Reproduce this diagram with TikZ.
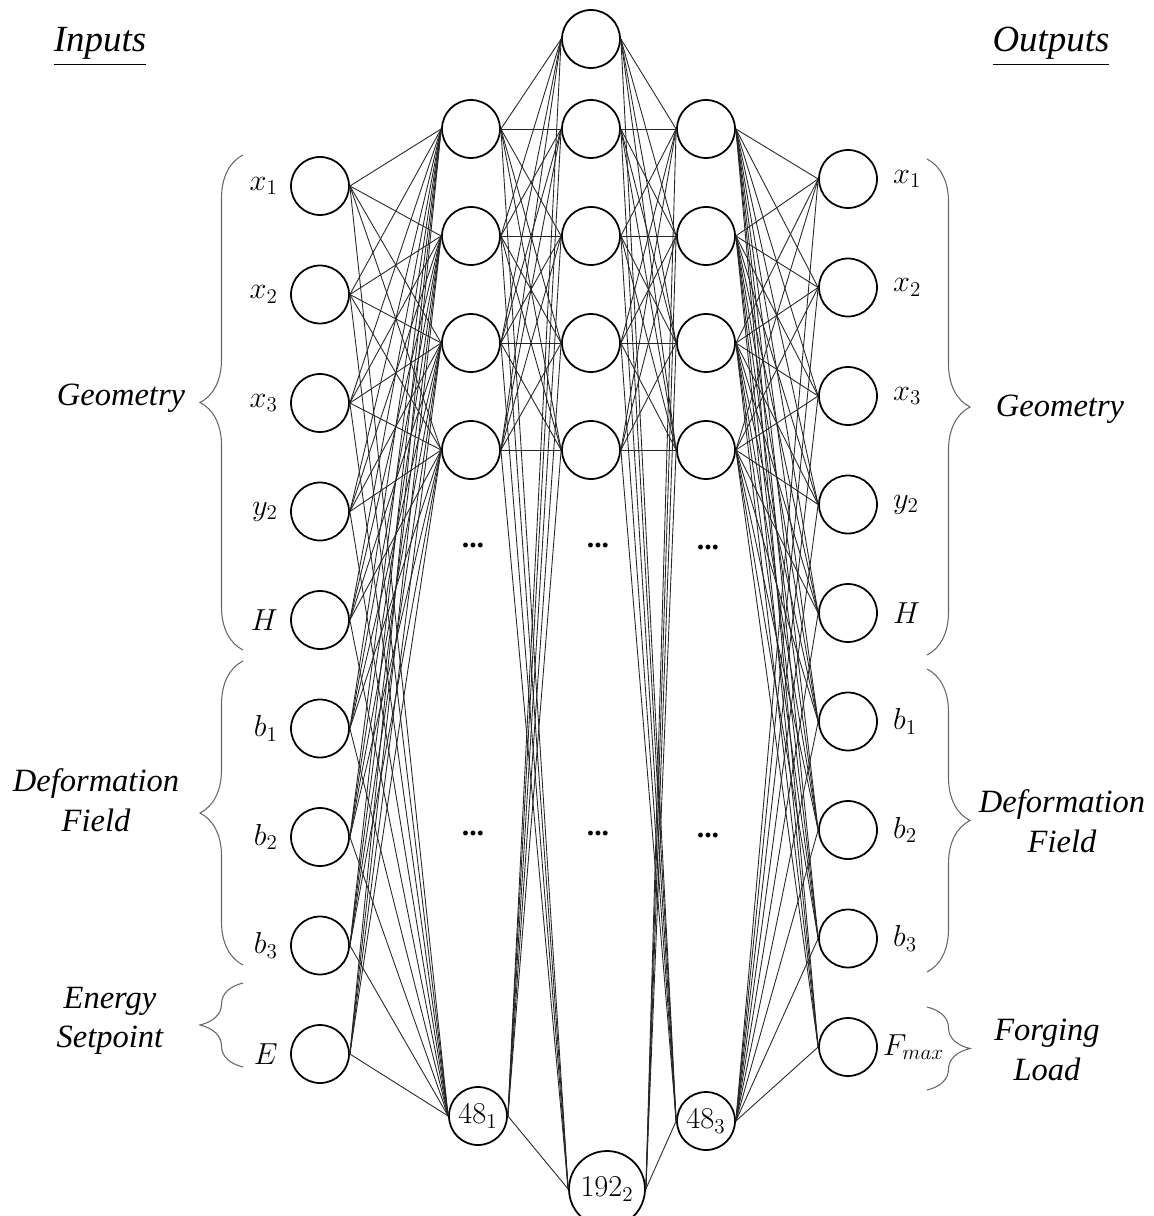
\documentclass[tikz,border=0pt]{standalone}
\usepackage{amsmath,amssymb}
\usepackage{fontspec}
\setmainfont{Liberation Serif}
\usepackage{tikz}
\usetikzlibrary{positioning,decorations.pathreplacing}

\tikzset{
  neuron/.style={draw,circle,line width=1pt,minimum size=1.16cm,inner sep=0pt,
    font=\fontsize{17.5}{20}\selectfont},
  wire/.style={line width=0.5pt,black!85},
  grp/.style={decorate,decoration={brace,amplitude=0.86cm},line width=0.6pt,black!60},
  lbl/.style={inner sep=0pt,font=\fontsize{17}{20}\selectfont},
  grouptext/.style={align=center,font=\fontsize{18.5}{22.5}\selectfont\itshape},
  head/.style={font=\fontsize{21}{24}\selectfont\itshape},
  dots/.style={font=\fontsize{17}{20}\selectfont\bfseries},
}

\begin{document}
\begin{tikzpicture}[x=0.02cm,y=-0.02cm]
\useasboundingbox (0,0) rectangle (1153,1216);

\node[head] (inhead) at (100,47) {\underline{Inputs}};
\node[head] (outhead) at (1051,47) {\underline{Outputs}};

% input and output layers
\foreach \lab [count=\i] in {x_1,x_2,x_3,y_2,H,b_1,b_2,b_3,E} {
  \node[neuron] (in\i) at (320,{186+108.5*(\i-1)}) {};
  \node[lbl,left=0.24cm of in\i] (inlab\i) {$\lab$};
}
\foreach \lab [count=\i] in {x_1,x_2,x_3,y_2,H,b_1,b_2,b_3} {
  \node[neuron] (out\i) at (848,{179+108.5*(\i-1)}) {};
  \node[lbl,right=0.3cm of out\i] (outlab\i) {$\lab$};
}
\node[neuron] (out9) at (848,1047) {};
\node[lbl,right=0.1cm of out9] (outlab9) {$F_{max}$};

% hidden layers
\foreach \j in {1,...,4} {
  \node[neuron] (hA\j) at (471,{129+107*(\j-1)}) {};
  \node[neuron] (hB\j) at (591,{129+107*(\j-1)}) {};
  \node[neuron] (hC\j) at (706,{129+107*(\j-1)}) {};
}
\node[neuron] (hB0) at (591,39) {};
\node[neuron] (hA5) at (478,1116) {$48_1$};
\node[neuron,minimum size=1.52cm] (hB5) at (607,1189) {$192_2$};
\node[neuron] (hC5) at (706,1121) {$48_3$};

\foreach \y [count=\k] in {545,833} {
  \node[dots] (dA\k) at (473,\y) {...};
  \node[dots] (dB\k) at (598,\y) {...};
  \node[dots] (dC\k) at (708,\y+2) {...};
}

% connections
\foreach \i in {1,...,9}
  \foreach \j in {1,...,5}
    \draw[wire] (in\i.east) -- (hA\j.west);
\foreach \i in {1,...,5}
  \foreach \j in {0,...,5}
    \draw[wire] (hA\i.east) -- (hB\j.west);
\foreach \i in {0,...,5}
  \foreach \j in {1,...,5}
    \draw[wire] (hB\i.east) -- (hC\j.west);
\foreach \i in {1,...,5}
  \foreach \j in {1,...,9}
    \draw[wire] (hC\i.east) -- (out\j.west);

% groups
\draw[grp] (243,650) -- (243,155);
\draw[grp] (243,965) -- (243,661);
\draw[grp] (243,1067) -- (243,983);
\draw[grp] (927,159) -- (927,655);
\draw[grp] (927,669) -- (927,972);
\draw[grp] (927,1007) -- (927,1090);

\node[grouptext] (geoIn) at (121,398) {Geometry};
\node[grouptext] (defIn) at (96,800) {Deformation\\Field};
\node[grouptext] (engIn) at (110,1021) {Energy\\Setpoint};
\node[grouptext] (geoOut) at (1060,409) {Geometry};
\node[grouptext] (defOut) at (1062,821) {Deformation\\Field};
\node[grouptext] (loadOut) at (1047,1050) {Forging\\Load};
\end{tikzpicture}
\end{document}
